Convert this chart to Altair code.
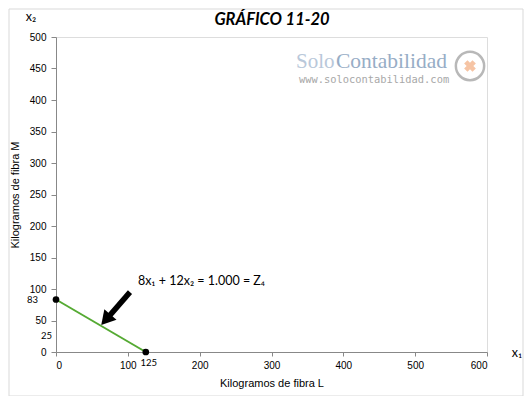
import altair as alt
import pandas as pd

# ---- data ----
line_x = [0, 125]
line_y = [83.33, 0]
x_ticks = [0, 100, 200, 300, 400, 500, 600]
y_ticks = [0, 50, 100, 150, 200, 250, 300, 350, 400, 450, 500]
y_extra_vals = [83.33, 25]
y_extra_labels = ["83", "25"]
y_extra_dx = [-18, -4]
x_extra_vals = [125]
x_extra_labels = ["125"]
eq_label = "8x\u2081 + 12x\u2082 = 1.000 = Z\u2084"
eq_x, eq_y = [114], [113]
arrow_x, arrow_y = [103, 74], [95, 57]
head_x, head_y = [71.5], [54]

FONT = "Lato"
W, H = 431, 315

xs = alt.Scale(domain=[0, 600], nice=False)
ys = alt.Scale(domain=[0, 500], nice=False)
xax = alt.Axis(values=x_ticks, title="Kilogramos de fibra L", grid=False, labelOverlap=False,
               tickSize=4, labelPadding=4, titlePadding=7, titleFontWeight="normal")
yax = alt.Axis(values=y_ticks, title="Kilogramos de fibra M", grid=False, labelOverlap=False,
               tickSize=5, labelPadding=5, titlePadding=9, titleFontWeight="normal")


def X(f="x:Q"):
    return alt.X(f, scale=xs, axis=xax)


def Y(f="y:Q"):
    return alt.Y(f, scale=ys, axis=yax)


line_df = pd.DataFrame({"x": line_x, "y": line_y})

line = alt.Chart(line_df).mark_line(color="#55AA33", strokeWidth=2).encode(x=X(), y=Y())

pts = alt.Chart(line_df).mark_point(filled=True, color="black", size=45, opacity=1).encode(
    x=X(), y=Y())

yex_df = pd.DataFrame({"y": y_extra_vals, "t": y_extra_labels, "x": [0, 0]})
yex = alt.layer(*[
    alt.Chart(yex_df.iloc[[i]]).mark_text(align="right", baseline="middle", fontSize=9.5,
                                           font=FONT, dx=int(y_extra_dx[i]), color="black").encode(
        x=X(), y=Y(), text="t:N")
    for i in range(len(y_extra_vals))
])

xex_df = pd.DataFrame({"x": x_extra_vals, "y": [0], "t": x_extra_labels})
xex = alt.Chart(xex_df).mark_text(align="center", baseline="middle", fontSize=9.5, font=FONT,
                                   dx=3, dy=11, color="black").encode(
    x=X(), y=Y(), text="t:N")

eq_df = pd.DataFrame({"x": eq_x, "y": eq_y, "t": [eq_label]})
eq = alt.Chart(eq_df).mark_text(align="left", baseline="middle", fontSize=12.5, font=FONT,
                                 color="black").encode(x=X(), y=Y(), text="t:N")

arr_df = pd.DataFrame({"x": arrow_x, "y": arrow_y})
shaft = alt.Chart(arr_df).mark_line(color="black", strokeWidth=5.5).encode(x=X(), y=Y())
head_df = pd.DataFrame({"x": head_x, "y": head_y})
head = alt.Chart(head_df).mark_point(shape="triangle", filled=True, color="black", size=260,
                                      angle=221, opacity=1).encode(x=X(), y=Y())

one = pd.DataFrame({"a": [0]})

title = alt.Chart(one).mark_text(text="GRÁFICO 11-20", font=FONT, fontSize=16.5,
                                  fontWeight="bold", fontStyle="italic", align="center",
                                  baseline="alphabetic", color="black").encode(
    x=alt.value(216), y=alt.value(-12))
x2lab = alt.Chart(one).mark_text(text="x\u2082", font=FONT, fontSize=12.5, align="center",
                                  baseline="middle", color="black").encode(
    x=alt.value(-25), y=alt.value(-20))
x1lab = alt.Chart(one).mark_text(text="x\u2081", font=FONT, fontSize=12.5, align="center",
                                  baseline="middle", color="black").encode(
    x=alt.value(461), y=alt.value(316))

wm_solo = alt.Chart(one).mark_text(text="Solo", font="Liberation Serif", fontSize=21,
                                    align="left", baseline="alphabetic", color="#b9c8da").encode(
    x=alt.value(240), y=alt.value(31))
wm_cont = alt.Chart(one).mark_text(text="Contabilidad", font="Liberation Serif", fontSize=21.5,
                                    align="left", baseline="alphabetic", color="#97adc6").encode(
    x=alt.value(280), y=alt.value(31))
wm_url = alt.Chart(one).mark_text(text="www.solocontabilidad.com", font="DejaVu Sans Mono",
                                   fontSize=10.4, align="left", baseline="alphabetic",
                                   color="#a8a8a8").encode(
    x=alt.value(243), y=alt.value(45.5))
wm_ring = alt.Chart(one).mark_point(shape="circle", filled=False, color="#b8b8b8", size=800,
                                     strokeWidth=2.5, opacity=1).encode(
    x=alt.value(414), y=alt.value(29))
wm_mark = alt.Chart(one).mark_point(shape="cross", filled=True, color="#f6c4a4", size=140,
                                     angle=45, opacity=1).encode(
    x=alt.value(414), y=alt.value(29))

frame = alt.Chart(one).mark_rect(fill=None, stroke="#d9d9d9", strokeWidth=1).encode(
    x=alt.value(-47), y=alt.value(-28), x2=alt.value(467), y2=alt.value(359))

chart = alt.layer(
    line, pts, yex, xex, eq, shaft, head,
    frame, wm_solo, wm_cont, wm_url, wm_ring, wm_mark, title, x2lab, x1lab,
).properties(
    width=W, height=H,
    autosize=alt.AutoSizeParams(type="none"),
    padding={"left": 48, "top": 29, "right": 37, "bottom": 44},
).configure_view(
    stroke="black", strokeWidth=1
).configure_axis(
    domainColor="black", tickColor="black", labelColor="black", titleColor="black",
    labelFont=FONT, titleFont=FONT, labelFontSize=11.5, titleFontSize=13,
    titleFontWeight="normal",
).configure(background="white")

chart.save("out.html", embed_options={"renderer": "svg", "actions": False})
